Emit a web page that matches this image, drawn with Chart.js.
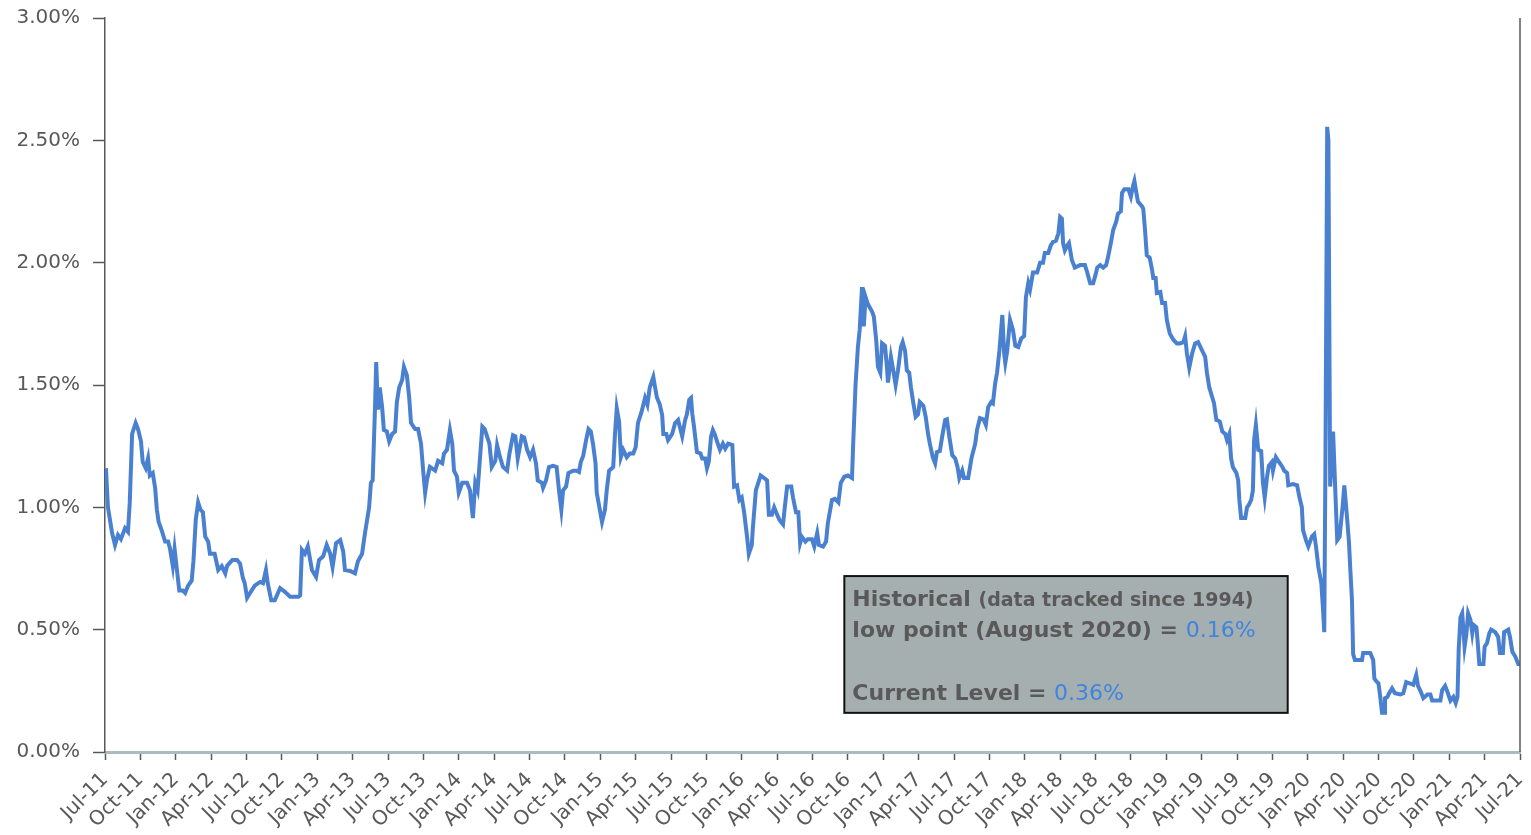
<!DOCTYPE html>
<html>
<head>
<meta charset="utf-8">
<script src="https://cdn.jsdelivr.net/npm/chart.js@4.4.1/dist/chart.umd.min.js"></script>
<style>
  html, body { margin: 0; padding: 0; background: #fff; }
  #wrap { width: 1531px; height: 835px; }
</style>
</head>
<body>
<div id="wrap"><canvas id="canvas"></canvas></div>
<script>
// x = months since Jul-2011, y = rate in %
const months = [
  0.08, 0.25, 0.6, 0.85, 1.1, 1.35, 1.7, 1.95, 2.1, 2.3, 2.6, 2.8, 3.05, 3.2, 3.45, 3.65, 3.8, 4.05, 4.25, 4.4,
  4.55, 4.8, 5.1, 5.35, 5.5, 5.75, 5.9, 6.1, 6.3, 6.6, 6.8, 7.05, 7.35, 7.5, 7.7, 7.9, 8.1, 8.3, 8.5, 8.75,
  8.9, 9.3, 9.6, 9.9, 10.2, 10.35, 10.8, 11.2, 11.45, 11.7, 11.85, 12.05, 12.3, 12.7, 13.15, 13.4, 13.65, 13.8, 14.1, 14.4,
  14.85, 15.25, 15.7, 16.4, 16.55, 16.7, 16.95, 17.2, 17.55, 17.9, 18.15, 18.5, 18.8, 19.1, 19.3, 19.6, 19.95, 20.2, 20.35, 20.8,
  21.2, 21.45, 21.8, 22.05, 22.2, 22.4, 22.55, 22.7, 22.9, 23.0, 23.15, 23.3, 23.5, 23.65, 23.9, 24.1, 24.35, 24.6, 24.75, 24.95,
  25.2, 25.35, 25.6, 25.8, 25.95, 26.3, 26.55, 26.8, 27.0, 27.15, 27.3, 27.55, 28.0, 28.25, 28.6, 28.75, 29.0, 29.25, 29.45, 29.6,
  29.85, 30.0, 30.3, 30.7, 30.95, 31.1, 31.2, 31.4, 31.6, 32.0, 32.2, 32.6, 32.8, 33.1, 33.25, 33.5, 33.75, 34.1, 34.3, 34.6,
  34.8, 35.0, 35.35, 35.55, 35.8, 36.05, 36.3, 36.55, 36.7, 37.05, 37.15, 37.4, 37.65, 38.0, 38.3, 38.5, 38.7, 38.85, 39.1, 39.3,
  39.7, 40.0, 40.2, 40.35, 40.55, 40.8, 41.0, 41.2, 41.4, 41.6, 41.7, 42.0, 42.15, 42.4, 42.55, 42.75, 43.1, 43.25, 43.4, 43.6,
  43.75, 43.95, 44.25, 44.5, 44.8, 45.0, 45.2, 45.5, 45.8, 46.0, 46.2, 46.5, 46.65, 46.8, 47.05, 47.25, 47.35, 47.6, 47.75, 48.1,
  48.35, 48.6, 48.95, 49.2, 49.35, 49.55, 49.7, 49.8, 49.95, 50.2, 50.5, 50.65, 50.9, 51.05, 51.2, 51.4, 51.55, 51.7, 51.9, 52.15,
  52.4, 52.6, 52.85, 53.2, 53.35, 53.6, 53.8, 54.0, 54.2, 54.45, 54.6, 54.85, 54.95, 55.2, 55.4, 55.6, 55.9, 56.15, 56.3, 56.55,
  56.75, 57.0, 57.2, 57.5, 57.65, 57.85, 58.2, 58.35, 58.6, 58.8, 58.95, 59.1, 59.4, 59.6, 59.95, 60.15, 60.4, 60.55, 60.9, 61.15,
  61.3, 61.65, 61.9, 62.2, 62.4, 62.7, 63.0, 63.35, 63.45, 63.65, 63.85, 64.0, 64.2, 64.35, 64.5, 64.7, 65.05, 65.2, 65.4, 65.55,
  65.75, 65.9, 66.15, 66.3, 66.4, 66.65, 66.85, 67.05, 67.25, 67.5, 67.65, 67.85, 68.0, 68.2, 68.35, 68.55, 68.75, 68.95, 69.1, 69.4,
  69.6, 69.8, 69.95, 70.2, 70.4, 70.55, 70.8, 71.0, 71.25, 71.4, 71.6, 71.85, 72.1, 72.3, 72.45, 72.7, 72.85, 73.2, 73.5, 73.8,
  73.95, 74.2, 74.5, 74.7, 74.9, 75.15, 75.3, 75.5, 75.65, 75.85, 76.1, 76.25, 76.35, 76.5, 76.75, 77.0, 77.2, 77.45, 77.7, 77.95,
  78.1, 78.3, 78.45, 78.7, 79.05, 79.3, 79.55, 79.7, 80.0, 80.2, 80.4, 80.65, 80.85, 81.0, 81.15, 81.25, 81.4, 81.6, 81.75, 82.0,
  82.25, 82.7, 83.1, 83.3, 83.55, 83.8, 84.0, 84.15, 84.4, 84.65, 84.9, 85.05, 85.3, 85.5, 85.75, 85.9, 86.15, 86.25, 86.45, 86.8,
  87.0, 87.2, 87.3, 87.45, 87.6, 87.95, 88.05, 88.2, 88.35, 88.6, 88.8, 88.9, 89.1, 89.2, 89.5, 89.65, 89.9, 90.05, 90.3, 90.6,
  90.9, 91.15, 91.45, 91.6, 91.75, 91.95, 92.2, 92.45, 92.7, 93.05, 93.3, 93.45, 93.65, 93.9, 94.05, 94.25, 94.4, 94.55, 94.75, 95.0,
  95.15, 95.35, 95.5, 95.65, 95.95, 96.1, 96.2, 96.35, 96.7, 96.85, 97.0, 97.2, 97.35, 97.45, 97.6, 97.8, 98.05, 98.2, 98.35, 98.55,
  98.7, 98.95, 99.05, 99.3, 99.5, 99.85, 100.0, 100.25, 100.35, 100.75, 101.1, 101.3, 101.5, 101.6, 101.85, 102.05, 102.35, 102.55, 102.7, 102.9,
  103.15, 103.3, 103.4, 103.5, 103.65, 103.75, 103.9, 104.05, 104.15, 104.35, 104.5, 104.7, 104.95, 105.1, 105.35, 105.5, 105.6, 105.75, 105.85, 106.0,
  106.6, 106.7, 107.3, 107.55, 107.65, 107.8, 108.0, 108.15, 108.3, 108.5, 108.55, 108.75, 108.9, 109.15, 109.4, 109.85, 110.1, 110.35, 110.7, 110.95,
  111.2, 111.35, 111.6, 111.8, 112.15, 112.4, 112.55, 113.25, 113.4, 113.65, 113.85, 114.1, 114.35, 114.55, 114.7, 114.8, 114.95, 115.1, 115.3, 115.45,
  115.6, 115.8, 115.95, 116.05, 116.3, 116.4, 116.55, 116.9, 117.0, 117.2, 117.4, 117.55, 117.9, 118.15, 118.3, 118.55, 118.65, 119.0, 119.15, 119.35,
  119.6, 119.85, 120.0
];

const rates = [
  1.16, 1.00, 0.895, 0.846, 0.887, 0.87, 0.915, 0.90, 1.02, 1.30, 1.345, 1.32, 1.27, 1.185, 1.16, 1.20, 1.13, 1.14, 1.08, 0.99,
  0.94, 0.907, 0.86, 0.86, 0.834, 0.76, 0.83, 0.744, 0.66, 0.66, 0.65, 0.68, 0.70, 0.78, 0.95, 1.02, 0.99, 0.98, 0.88, 0.86,
  0.81, 0.81, 0.744, 0.76, 0.73, 0.76, 0.785, 0.785, 0.77, 0.71, 0.69, 0.63, 0.65, 0.68, 0.695, 0.69, 0.744, 0.69, 0.62, 0.62,
  0.67, 0.655, 0.635, 0.635, 0.64, 0.826, 0.81, 0.84, 0.744, 0.716, 0.785, 0.80, 0.846, 0.81, 0.756, 0.854, 0.866, 0.82, 0.744, 0.74,
  0.73, 0.78, 0.81, 0.895, 0.94, 1.00, 1.10, 1.11, 1.41, 1.594, 1.40, 1.49, 1.41, 1.316, 1.31, 1.27, 1.30, 1.31, 1.43, 1.49,
  1.52, 1.574, 1.54, 1.447, 1.345, 1.32, 1.32, 1.26, 1.14, 1.06, 1.11, 1.165, 1.15, 1.19, 1.18, 1.22, 1.235, 1.316, 1.26, 1.15,
  1.125, 1.06, 1.10, 1.10, 1.07, 1.00, 0.956, 1.10, 1.07, 1.33, 1.32, 1.26, 1.165, 1.19, 1.255, 1.205, 1.165, 1.15, 1.22, 1.295,
  1.29, 1.20, 1.29, 1.285, 1.235, 1.205, 1.235, 1.18, 1.11, 1.10, 1.08, 1.11, 1.165, 1.17, 1.165, 1.07, 0.99, 1.07, 1.085, 1.14,
  1.15, 1.15, 1.145, 1.185, 1.21, 1.275, 1.32, 1.31, 1.255, 1.18, 1.06, 0.98, 0.94, 0.99, 1.07, 1.15, 1.165, 1.30, 1.405, 1.35,
  1.205, 1.235, 1.205, 1.22, 1.22, 1.245, 1.345, 1.39, 1.447, 1.42, 1.49, 1.533, 1.49, 1.45, 1.42, 1.377, 1.30, 1.30, 1.275, 1.30,
  1.345, 1.357, 1.29, 1.357, 1.38, 1.44, 1.447, 1.385, 1.33, 1.226, 1.22, 1.20, 1.20, 1.16, 1.185, 1.29, 1.316, 1.30, 1.27, 1.235,
  1.26, 1.24, 1.26, 1.255, 1.085, 1.09, 1.03, 1.04, 0.98, 0.88, 0.81, 0.846, 0.92, 1.07, 1.10, 1.13, 1.12, 1.11, 0.97, 0.97,
  1.00, 0.97, 0.948, 0.93, 1.00, 1.085, 1.085, 1.04, 0.98, 0.98, 0.854, 0.88, 0.86, 0.87, 0.87, 0.84, 0.895, 0.846, 0.84, 0.86,
  0.935, 1.03, 1.035, 1.02, 1.10, 1.125, 1.13, 1.12, 1.26, 1.50, 1.655, 1.725, 1.90, 1.74, 1.86, 1.83, 1.80, 1.78, 1.685, 1.574,
  1.55, 1.67, 1.66, 1.58, 1.51, 1.615, 1.56, 1.50, 1.56, 1.655, 1.675, 1.64, 1.56, 1.55, 1.49, 1.426, 1.37, 1.38, 1.43, 1.415,
  1.37, 1.30, 1.26, 1.205, 1.18, 1.226, 1.23, 1.29, 1.357, 1.36, 1.29, 1.213, 1.20, 1.165, 1.12, 1.15, 1.12, 1.12, 1.205, 1.26,
  1.316, 1.365, 1.36, 1.337, 1.41, 1.43, 1.425, 1.51, 1.55, 1.64, 1.786, 1.63, 1.59, 1.635, 1.766, 1.725, 1.66, 1.655, 1.69, 1.70,
  1.86, 1.916, 1.89, 1.96, 1.96, 2.00, 2.00, 2.04, 2.04, 2.07, 2.085, 2.09, 2.12, 2.187, 2.18, 2.08, 2.05, 2.07, 2.08, 2.01,
  1.98, 1.99, 1.99, 1.96, 1.916, 1.916, 1.95, 1.98, 1.99, 1.98, 1.99, 2.02, 2.08, 2.133, 2.166, 2.20, 2.21, 2.285, 2.30, 2.30,
  2.27, 2.317, 2.334, 2.29, 2.25, 2.23, 2.22, 2.133, 2.03, 2.02, 1.97, 1.937, 1.937, 1.876, 1.88, 1.835, 1.835, 1.766, 1.71, 1.685,
  1.67, 1.67, 1.675, 1.70, 1.63, 1.57, 1.63, 1.67, 1.675, 1.64, 1.615, 1.55, 1.49, 1.45, 1.426, 1.357, 1.355, 1.35, 1.31, 1.30,
  1.275, 1.30, 1.20, 1.165, 1.14, 1.11, 1.03, 0.956, 0.956, 1.00, 1.01, 1.03, 1.07, 1.275, 1.337, 1.235, 1.23, 1.10, 1.04, 1.125,
  1.17, 1.185, 1.15, 1.205, 1.19, 1.165, 1.15, 1.14, 1.09, 1.095, 1.09, 1.04, 1.00, 0.907, 0.866, 0.84, 0.88, 0.89, 0.84, 0.756,
  0.69, 0.58, 0.49, 1.19, 2.555, 2.50, 1.085, 1.20, 1.31, 1.05, 0.866, 0.88, 1.00, 1.09, 0.948, 0.854, 0.756, 0.62, 0.40, 0.376,
  0.376, 0.405, 0.405, 0.376, 0.30, 0.29, 0.28, 0.225, 0.16, 0.16, 0.22, 0.225, 0.24, 0.26, 0.24, 0.235, 0.24, 0.286, 0.28, 0.275,
  0.315, 0.27, 0.245, 0.22, 0.235, 0.235, 0.21, 0.21, 0.253, 0.27, 0.245, 0.21, 0.225, 0.20, 0.225, 0.417, 0.55, 0.567, 0.43, 0.48,
  0.567, 0.54, 0.486, 0.52, 0.51, 0.456, 0.36, 0.36, 0.43, 0.445, 0.486, 0.50, 0.49, 0.47, 0.405, 0.405, 0.49, 0.50, 0.47, 0.41,
  0.39, 0.36, 0.36
];

const tickLabels = [
  'Jul-11', 'Oct-11', 'Jan-12', 'Apr-12', 'Jul-12', 'Oct-12', 'Jan-13', 'Apr-13', 'Jul-13', 'Oct-13',
  'Jan-14', 'Apr-14', 'Jul-14', 'Oct-14', 'Jan-15', 'Apr-15', 'Jul-15', 'Oct-15', 'Jan-16', 'Apr-16',
  'Jul-16', 'Oct-16', 'Jan-17', 'Apr-17', 'Jul-17', 'Oct-17', 'Jan-18', 'Apr-18', 'Jul-18', 'Oct-18',
  'Jan-19', 'Apr-19', 'Jul-19', 'Oct-19', 'Jan-20', 'Apr-20', 'Jul-20', 'Oct-20', 'Jan-21', 'Apr-21',
  'Jul-21'
];

const yTicks = [0, 0.5, 1.0, 1.5, 2.0, 2.5, 3.0];

// text box, placed in data units
const note = { x0: 62.7, x1: 100.3, yTop: 0.719, yBottom: 0.16 };

const grey = '#595959';
const blue = '#3f84de';

const points = months.map((m, i) => ({ x: m, y: rates[i] }));

const frame = {
  id: 'frame',
  afterDraw(chart) {
    const c = chart.ctx;
    const a = chart.chartArea;
    // right border
    c.save();
    c.strokeStyle = grey;
    c.lineWidth = 1.5;
    c.beginPath();
    c.moveTo(a.right, a.top);
    c.lineTo(a.right, a.bottom);
    c.stroke();

    // note box
    const xs = chart.scales.x, ys = chart.scales.y;
    const l = xs.getPixelForValue(note.x0), r = xs.getPixelForValue(note.x1);
    const t = ys.getPixelForValue(note.yTop), b = ys.getPixelForValue(note.yBottom);
    c.fillStyle = '#a6afb0';
    c.fillRect(l, t, r - l, b - t);
    c.strokeStyle = '#111';
    c.lineWidth = 2;
    c.strokeRect(l, t, r - l, b - t);

    const tx = l + 8;
    c.textBaseline = 'alphabetic';
    c.textAlign = 'left';
    let x = tx;
    c.fillStyle = grey;
    c.font = 'bold 22px "DejaVu Sans"';
    c.fillText('Historical ', x, t + 30);
    x += c.measureText('Historical ').width;
    c.font = 'bold 19px "DejaVu Sans"';
    c.fillText('(data tracked since 1994)', x, t + 30);

    x = tx;
    c.font = 'bold 22px "DejaVu Sans"';
    c.fillText('low point (August 2020) = ', x, t + 61);
    x += c.measureText('low point (August 2020) = ').width;
    c.fillStyle = blue;
    c.font = '22px "DejaVu Sans"';
    c.fillText('0.16%', x, t + 61);

    x = tx;
    c.fillStyle = grey;
    c.font = 'bold 22px "DejaVu Sans"';
    c.fillText('Current Level = ', x, t + 124);
    x += c.measureText('Current Level = ').width;
    c.fillStyle = blue;
    c.font = '22px "DejaVu Sans"';
    c.fillText('0.36%', x, t + 124);
    c.restore();
  }
};

let ctx = document.getElementById('canvas').getContext('2d');

new Chart(ctx, {
  type: 'line',
  data: {
    datasets: [{
      data: points,
      borderColor: '#4a80d0',
      borderWidth: 4,
      pointRadius: 0,
      tension: 0,
      fill: false
    }]
  },
  options: {
    responsive: true,
    maintainAspectRatio: false,
    animation: false,
    layout: { padding: { top: 18, right: 11, left: 0, bottom: 0 } },
    plugins: { legend: { display: false }, tooltip: { enabled: false } },
    scales: {
      x: {
        type: 'linear',
        min: 0,
        max: 120,
        afterBuildTicks: (s) => { s.ticks = tickLabels.map((_, i) => ({ value: i * 3 })); },
        afterFit: (s) => { s.height = 83; s.paddingLeft = 0; s.paddingRight = 0; },
        ticks: {
          autoSkip: false,
          minRotation: 45,
          maxRotation: 45,
          padding: 8,
          color: grey,
          font: { family: 'DejaVu Sans', size: 20 },
          callback: (v) => tickLabels[Math.round(v / 3)]
        },
        grid: {
          drawOnChartArea: false,
          tickLength: 8,
          tickColor: grey,
          tickWidth: 1.5
        },
        border: { color: '#a9bcc4', width: 3 }
      },
      y: {
        min: 0,
        max: 3,
        afterBuildTicks: (s) => { s.ticks = yTicks.map(v => ({ value: v })); },
        afterFit: (s) => { s.width = 105; s.paddingTop = 0; s.paddingBottom = 0; },
        ticks: {
          padding: 13,
          color: grey,
          font: { family: 'DejaVu Sans', size: 20 },
          callback: (v) => v.toFixed(2) + '%'
        },
        grid: {
          drawOnChartArea: false,
          tickLength: 12,
          tickColor: grey,
          tickWidth: 1.5
        },
        border: { color: grey, width: 1.5 }
      }
    }
  },
  plugins: [frame]
});
</script>
</body>
</html>
